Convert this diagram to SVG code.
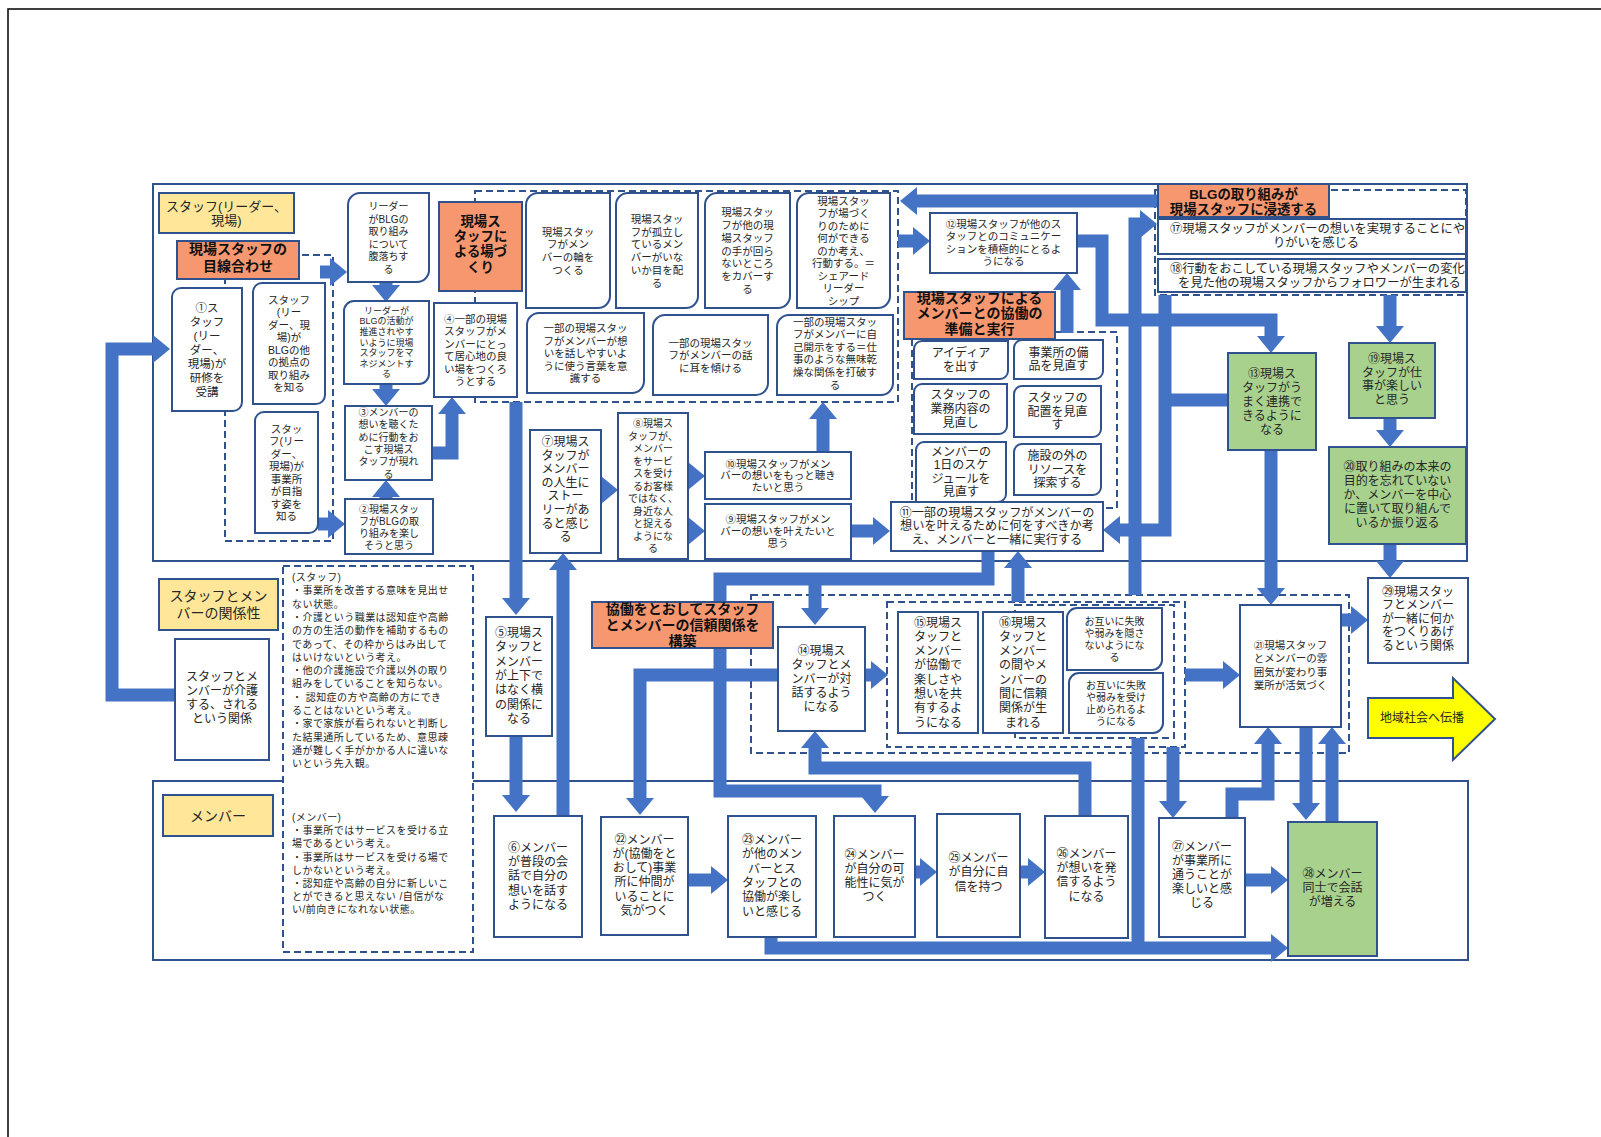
<svg xmlns="http://www.w3.org/2000/svg" width="1601" height="1137" viewBox="0 0 1601 1137">
<defs>
<style>
.fr{fill:none;stroke:#2F528F;stroke-width:2}
.dz{fill:none;stroke:#2F528F;stroke-width:2;stroke-dasharray:7 4}
.dzw{fill:#fff;stroke:#2F528F;stroke-width:2;stroke-dasharray:7 4}
.n{fill:#fff;stroke:#2F528F;stroke-width:2}
.gr{fill:#A9D18E;stroke:#2F528F;stroke-width:2}
.yl{fill:#FFE699;stroke:#2F528F;stroke-width:2}
.or{fill:#F7976F;stroke:#2F528F;stroke-width:2}
.c{fill:none;stroke:#4472C4;stroke-width:13;marker-end:url(#ah)}
.cn{fill:none;stroke:#4472C4;stroke-width:13}
text{font-family:"Liberation Sans","Noto Sans CJK JP","Noto Sans",sans-serif;fill:#262626}
.t{text-anchor:middle;dominant-baseline:central}
.s{text-anchor:start;dominant-baseline:central}
.b{font-weight:700;fill:#111}
.f9{font-size:9px}.f10{font-size:10px}.f105{font-size:10.5px}.f11{font-size:11px}.f115{font-size:11.5px}.f12{font-size:12px}.f122{font-size:12.2px}.f123{font-size:12.3px}.f13{font-size:13px}.f134{font-size:13.4px}.f14{font-size:14px}
.ls{letter-spacing:0.45px}
</style>
<marker id="ah" markerUnits="userSpaceOnUse" markerWidth="17" markerHeight="28" viewBox="0 0 17 28" refX="1" refY="14" orient="auto"><path d="M0,0 L17,14 L0,28 Z" fill="#4472C4"/></marker>
<clipPath id="cp17"><rect x="1158" y="219" width="308" height="35"/></clipPath>
<clipPath id="cp18"><rect x="1158" y="259" width="308" height="33"/></clipPath>
</defs>
<rect width="1601" height="1137" fill="#fff"/>
<path d="M8,1137 V9 H1601" stroke="#000" stroke-width="1.5" fill="none"/>

<g id="frames">
<rect class="fr" x="153" y="184" width="1314" height="377"/>
<rect class="fr" x="153" y="781" width="1315" height="179"/>
<rect class="dz" x="225" y="255" width="108" height="286"/>
<rect class="dz" x="475" y="191" width="423" height="211"/>
<rect class="dz" x="912" y="332" width="205" height="176"/>
<rect class="dz" x="1155" y="190" width="311" height="105"/>
<rect class="dz" x="751" y="595" width="598" height="158"/>
<rect class="dz" x="887" y="602" width="298" height="145"/>
<rect class="dz" x="1015" y="605" width="159" height="133"/>
</g>

<g id="notes">
<rect class="dzw" x="283" y="566" width="190" height="386"/>
<text class="s f10 ls">
<tspan x="292" y="577">(スタッフ)</tspan>
<tspan x="292" y="590.3">・事業所を改善する意味を見出せ</tspan>
<tspan x="292" y="603.6">ない状態。</tspan>
<tspan x="292" y="616.9">・介護という職業は認知症や高齢</tspan>
<tspan x="292" y="630.2">の方の生活の動作を補助するもの</tspan>
<tspan x="292" y="643.5">であって、その枠からはみ出して</tspan>
<tspan x="292" y="656.8">はいけないという考え。</tspan>
<tspan x="292" y="670.1">・他の介護施設で介護以外の取り</tspan>
<tspan x="292" y="683.4">組みをしていることを知らない。</tspan>
<tspan x="292" y="696.7">・ 認知症の方や高齢の方にでき</tspan>
<tspan x="292" y="710">ることはないという考え。</tspan>
<tspan x="292" y="723.3">・家で家族が看られないと判断し</tspan>
<tspan x="292" y="736.6">た結果通所しているため、意思疎</tspan>
<tspan x="292" y="749.9">通が難しく手がかかる人に違いな</tspan>
<tspan x="292" y="763.2">いという先入観。</tspan>
<tspan x="292" y="817">(メンバー)</tspan>
<tspan x="292" y="830.2">・事業所ではサービスを受ける立</tspan>
<tspan x="292" y="843.4">場であるという考え。</tspan>
<tspan x="292" y="856.6">・事業所はサービスを受ける場で</tspan>
<tspan x="292" y="869.8">しかないという考え。</tspan>
<tspan x="292" y="883">・認知症や高齢の自分に新しいこ</tspan>
<tspan x="292" y="896.2">とができると思えない /自信がな</tspan>
<tspan x="292" y="909.4">い/前向きになれない状態。</tspan>
</text>
</g>

<g id="connectors">
<path class="c" d="M175,695 H112 V349 H154"/>
<path class="c" d="M320,272 H331"/>
<path class="c" d="M386,282 V286"/>
<path class="c" d="M386,384 V390"/>
<path class="c" d="M386,499 V496"/>
<path class="c" d="M318,524 H329"/>
<path class="c" d="M432,453 H452 V413"/>
<path class="c" d="M516,402 V599"/>
<path class="c" d="M516,736 V796"/>
<path class="c" d="M563,816 V569"/>
<path class="c" d="M601,490 H602"/>
<path class="c" d="M688,476 H689"/>
<path class="c" d="M688,531 H689"/>
<path class="c" d="M823,452 V418"/>
<path class="c" d="M851,531 H874"/>
<path class="c" d="M1165,295 V530 H1119"/>
<path class="cn" d="M1228,400 H1165"/>
<path class="c" d="M1077,241 H1102 V320 H1271 V337"/>
<path class="c" d="M1067,333 V289"/>
<path class="c" d="M1158,201 H916"/>
<path class="c" d="M898,241 H914"/>
<path class="c" d="M1135,595 V224 H1141"/>
<path class="c" d="M988,551 V579 H720 V791 H875 V797"/>
<path class="c" d="M815,579 V609"/>
<path class="c" d="M1018,602 V567"/>
<path class="c" d="M778,675 H640 V799"/>
<path class="c" d="M1085,816 V768 H815 V747"/>
<path class="c" d="M865,675 H872"/>
<path class="c" d="M1185,675 H1224"/>
<path class="c" d="M1271,450 V589"/>
<path class="c" d="M1390,295 V327"/>
<path class="c" d="M1390,418 V431"/>
<path class="c" d="M1390,544 V562"/>
<path class="c" d="M1341,620 H1352"/>
<path class="c" d="M1173,747 V802"/>
<path class="cn" d="M1138,738 V948"/>
<path class="c" d="M771,937 V948 H1272"/>
<path class="c" d="M1232,818 V794 H1268 V743"/>
<path class="c" d="M1306,727 V804"/>
<path class="c" d="M1332,822 V743"/>
<path class="c" d="M688,880 H712"/>
<path class="c" d="M915,872 H921"/>
<path class="c" d="M1020,872 H1029"/>
<path class="c" d="M1245,880 H1272"/>
</g>

<g id="n01"><path class="n" d="M181,288 H242 V402 A9,9 0 0 1 233,411 H172 V297 A9,9 0 0 1 181,288 Z"/>
<text class="t f115" x="207" y="307.5"><tspan x="207" dy="0">①ス</tspan><tspan x="207" dy="14">タッフ</tspan><tspan x="207" dy="14">(リー</tspan><tspan x="207" dy="14">ダー、</tspan><tspan x="207" dy="14">現場)が</tspan><tspan x="207" dy="14">研修を</tspan><tspan x="207" dy="14">受講</tspan></text></g>

<g id="n-other-sites"><path class="n" d="M262,283 H325 V395 A9,9 0 0 1 316,404 H253 V292 A9,9 0 0 1 262,283 Z"/>
<text class="t f105" x="289" y="299.75"><tspan x="289" dy="0">スタッフ</tspan><tspan x="289" dy="12.5">(リー</tspan><tspan x="289" dy="12.5">ダー、現</tspan><tspan x="289" dy="12.5">場)が</tspan><tspan x="289" dy="12.5">BLGの他</tspan><tspan x="289" dy="12.5">の拠点の</tspan><tspan x="289" dy="12.5">取り組み</tspan><tspan x="289" dy="12.5">を知る</tspan></text></g>

<g id="n-vision"><path class="n" d="M264,412 H318 V524 A9,9 0 0 1 309,533 H255 V421 A9,9 0 0 1 264,412 Z"/>
<text class="t f105" x="286.5" y="428.75"><tspan x="286.5" dy="0">スタッ</tspan><tspan x="286.5" dy="12.5">フ(リー</tspan><tspan x="286.5" dy="12.5">ダー、</tspan><tspan x="286.5" dy="12.5">現場)が</tspan><tspan x="286.5" dy="12.5">事業所</tspan><tspan x="286.5" dy="12.5">が目指</tspan><tspan x="286.5" dy="12.5">す姿を</tspan><tspan x="286.5" dy="12.5">知る</tspan></text></g>

<g id="n-leader"><path class="n" d="M360,193 H429 V270 A12,12 0 0 1 417,282 H348 V205 A12,12 0 0 1 360,193 Z"/>
<text class="t f10" x="388.5" y="206"><tspan x="388.5" dy="0">リーダー</tspan><tspan x="388.5" dy="12.5">がBLGの</tspan><tspan x="388.5" dy="12.5">取り組み</tspan><tspan x="388.5" dy="12.5">について</tspan><tspan x="388.5" dy="12.5">腹落ちす</tspan><tspan x="388.5" dy="12.5">る</tspan></text></g>

<g id="n-manage"><path class="n" d="M354,301 H429 V374 A10,10 0 0 1 419,384 H344 V311 A10,10 0 0 1 354,301 Z"/>
<text class="t f9" x="386.5" y="310.7"><tspan x="386.5" dy="0">リーダーが</tspan><tspan x="386.5" dy="10.6">BLGの活動が</tspan><tspan x="386.5" dy="10.6">推進されやす</tspan><tspan x="386.5" dy="10.6">いように現場</tspan><tspan x="386.5" dy="10.6">スタッフをマ</tspan><tspan x="386.5" dy="10.6">ネジメントす</tspan><tspan x="386.5" dy="10.6">る</tspan></text></g>

<g id="n03"><rect class="n" x="345" y="406" width="87" height="74"/>
<text class="t f10" x="388.5" y="412"><tspan x="388.5" dy="0">③メンバーの</tspan><tspan x="388.5" dy="12.3">想いを聴くた</tspan><tspan x="388.5" dy="12.3">めに行動をお</tspan><tspan x="388.5" dy="12.3">こす現場ス</tspan><tspan x="388.5" dy="12.3">タッフが現れ</tspan><tspan x="388.5" dy="12.3">る</tspan></text></g>

<g id="n02"><rect class="n" x="345" y="499" width="88" height="55"/>
<text class="t f10" x="389" y="508.5"><tspan x="389" dy="0">②現場スタッ</tspan><tspan x="389" dy="12">フがBLGの取</tspan><tspan x="389" dy="12">り組みを楽し</tspan><tspan x="389" dy="12">そうと思う</tspan></text></g>

<g id="n04"><rect class="n" x="434" y="303" width="83" height="94"/>
<text class="t f105" x="475.5" y="318.5"><tspan x="475.5" dy="0">④一部の現場</tspan><tspan x="475.5" dy="12.5">スタッフがメ</tspan><tspan x="475.5" dy="12.5">ンバーにとっ</tspan><tspan x="475.5" dy="12.5">て居心地の良</tspan><tspan x="475.5" dy="12.5">い場をつくろ</tspan><tspan x="475.5" dy="12.5">うとする</tspan></text></g>

<g id="n-ring"><path class="n" d="M538,193 H610 V296 A12,12 0 0 1 598,308 H526 V205 A12,12 0 0 1 538,193 Z"/>
<text class="t f105" x="568" y="231.5"><tspan x="568" dy="0">現場スタッ</tspan><tspan x="568" dy="12.7">フがメン</tspan><tspan x="568" dy="12.7">バーの輪を</tspan><tspan x="568" dy="12.7">つくる</tspan></text></g>

<g id="n-isolated"><path class="n" d="M628,193 H698 V296 A12,12 0 0 1 686,308 H616 V205 A12,12 0 0 1 628,193 Z"/>
<text class="t f105" x="657" y="219"><tspan x="657" dy="0">現場スタッ</tspan><tspan x="657" dy="12.7">フが孤立し</tspan><tspan x="657" dy="12.7">ているメン</tspan><tspan x="657" dy="12.7">バーがいな</tspan><tspan x="657" dy="12.7">いか目を配</tspan><tspan x="657" dy="12.7">る</tspan></text></g>

<g id="n-cover"><path class="n" d="M717,193 H790 V296 A12,12 0 0 1 778,308 H705 V205 A12,12 0 0 1 717,193 Z"/>
<text class="t f105" x="747.5" y="212.4"><tspan x="747.5" dy="0">現場スタッ</tspan><tspan x="747.5" dy="12.7">フが他の現</tspan><tspan x="747.5" dy="12.7">場スタッフ</tspan><tspan x="747.5" dy="12.7">の手が回ら</tspan><tspan x="747.5" dy="12.7">ないところ</tspan><tspan x="747.5" dy="12.7">をカバーす</tspan><tspan x="747.5" dy="12.7">る</tspan></text></g>

<g id="n-shared"><path class="n" d="M809,193 H890 V296 A12,12 0 0 1 878,308 H797 V205 A12,12 0 0 1 809,193 Z"/>
<text class="t f105" x="843.5" y="200.5"><tspan x="843.5" dy="0">現場スタッ</tspan><tspan x="843.5" dy="12.5">フが場づく</tspan><tspan x="843.5" dy="12.5">りのために</tspan><tspan x="843.5" dy="12.5">何ができる</tspan><tspan x="843.5" dy="12.5">のか考え、</tspan><tspan x="843.5" dy="12.5">行動する。＝</tspan><tspan x="843.5" dy="12.5">シェアード</tspan><tspan x="843.5" dy="12.5">リーダー</tspan><tspan x="843.5" dy="12.5">シップ</tspan></text></g>

<g id="n-words"><path class="n" d="M539,313 H644 V381 A12,12 0 0 1 632,393 H527 V325 A12,12 0 0 1 539,313 Z"/>
<text class="t f105" x="585.5" y="328"><tspan x="585.5" dy="0">一部の現場スタッ</tspan><tspan x="585.5" dy="12.5">フがメンバーが想</tspan><tspan x="585.5" dy="12.5">いを話しやすいよ</tspan><tspan x="585.5" dy="12.5">うに使う言葉を意</tspan><tspan x="585.5" dy="12.5">識する</tspan></text></g>

<g id="n-listen"><path class="n" d="M665,315 H768 V383 A12,12 0 0 1 756,395 H653 V327 A12,12 0 0 1 665,315 Z"/>
<text class="t f105" x="710.5" y="342.5"><tspan x="710.5" dy="0">一部の現場スタッ</tspan><tspan x="710.5" dy="12.5">フがメンバーの話</tspan><tspan x="710.5" dy="12.5">に耳を傾ける</tspan></text></g>

<g id="n-disclose"><path class="n" d="M789,315 H893 V383 A12,12 0 0 1 881,395 H777 V327 A12,12 0 0 1 789,315 Z"/>
<text class="t f105" x="835" y="321.5"><tspan x="835" dy="0">一部の現場スタッ</tspan><tspan x="835" dy="12.6">フがメンバーに自</tspan><tspan x="835" dy="12.6">己開示をする＝仕</tspan><tspan x="835" dy="12.6">事のような無味乾</tspan><tspan x="835" dy="12.6">燥な関係を打破す</tspan><tspan x="835" dy="12.6">る</tspan></text></g>

<g id="n05"><rect class="n" x="486" y="617" width="66" height="119"/>
<text class="t f12" x="519" y="633"><tspan x="519" dy="0">⑤現場ス</tspan><tspan x="519" dy="14.3">タッフと</tspan><tspan x="519" dy="14.3">メンバー</tspan><tspan x="519" dy="14.3">が上下で</tspan><tspan x="519" dy="14.3">はなく横</tspan><tspan x="519" dy="14.3">の関係に</tspan><tspan x="519" dy="14.3">なる</tspan></text></g>

<g id="n06"><rect class="n" x="494" y="816" width="88" height="121"/>
<text class="t f12" x="538" y="848"><tspan x="538" dy="0">⑥メンバー</tspan><tspan x="538" dy="14.2">が普段の会</tspan><tspan x="538" dy="14.2">話で自分の</tspan><tspan x="538" dy="14.2">想いを話す</tspan><tspan x="538" dy="14.2">ようになる</tspan></text></g>

<g id="n07"><rect class="n" x="530" y="430" width="71" height="123"/>
<text class="t f12" x="565.5" y="442"><tspan x="565.5" dy="0">⑦現場ス</tspan><tspan x="565.5" dy="13.6">タッフが</tspan><tspan x="565.5" dy="13.6">メンバー</tspan><tspan x="565.5" dy="13.6">の人生に</tspan><tspan x="565.5" dy="13.6">ストー</tspan><tspan x="565.5" dy="13.6">リーがあ</tspan><tspan x="565.5" dy="13.6">ると感じ</tspan><tspan x="565.5" dy="13.6">る</tspan></text></g>

<g id="n08"><rect class="n" x="618" y="413" width="70" height="146"/>
<text class="t f10" x="653" y="423"><tspan x="653" dy="0">⑧現場ス</tspan><tspan x="653" dy="12.5">タッフが、</tspan><tspan x="653" dy="12.5">メンバー</tspan><tspan x="653" dy="12.5">をサービ</tspan><tspan x="653" dy="12.5">スを受け</tspan><tspan x="653" dy="12.5">るお客様</tspan><tspan x="653" dy="12.5">ではなく、</tspan><tspan x="653" dy="12.5">身近な人</tspan><tspan x="653" dy="12.5">と捉える</tspan><tspan x="653" dy="12.5">ようにな</tspan><tspan x="653" dy="12.5">る</tspan></text></g>

<g id="n10"><rect class="n" x="705" y="452" width="146" height="47"/>
<text class="t f105" x="778" y="463.5"><tspan x="778" dy="0">⑩現場スタッフがメン</tspan><tspan x="778" dy="11.9">バーの想いをもっと聴き</tspan><tspan x="778" dy="11.9">たいと思う</tspan></text></g>

<g id="n09"><rect class="n" x="705" y="504" width="146" height="55"/>
<text class="t f105" x="778" y="519"><tspan x="778" dy="0">⑨現場スタッフがメン</tspan><tspan x="778" dy="11.9">バーの想いを叶えたいと</tspan><tspan x="778" dy="11.9">思う</tspan></text></g>

<g id="n11"><rect class="n" x="891" y="502" width="212" height="49"/>
<text class="t f122" x="997" y="512.5"><tspan x="997" dy="0">⑪一部の現場スタッフがメンバーの</tspan><tspan x="997" dy="13.8">想いを叶えるために何をすべきか考</tspan><tspan x="997" dy="13.8">え、メンバーと一緒に実行する</tspan></text></g>

<g id="n12"><rect class="n" x="930" y="213" width="147" height="60"/>
<text class="t f105" x="1003.5" y="224"><tspan x="1003.5" dy="0">⑫現場スタッフが他のス</tspan><tspan x="1003.5" dy="12.3">タッフとのコミュニケー</tspan><tspan x="1003.5" dy="12.3">ションを積極的にとるよ</tspan><tspan x="1003.5" dy="12.3">うになる</tspan></text></g>

<g id="n-idea"><path class="n" d="M922,341 H1008 V371 A8,8 0 0 1 1000,379 H914 V349 A8,8 0 0 1 922,341 Z"/>
<text class="t f12" x="961" y="353.2"><tspan x="961" dy="0">アイディア</tspan><tspan x="961" dy="13.6">を出す</tspan></text></g>

<g id="n-equip"><path class="n" d="M1022,340 H1103 V371 A8,8 0 0 1 1095,379 H1014 V348 A8,8 0 0 1 1022,340 Z"/>
<text class="t f12" x="1058.5" y="352.7"><tspan x="1058.5" dy="0">事業所の備</tspan><tspan x="1058.5" dy="13.6">品を見直す</tspan></text></g>

<g id="n-duty"><path class="n" d="M922,384 H1007 V426 A8,8 0 0 1 999,434 H914 V392 A8,8 0 0 1 922,384 Z"/>
<text class="t f12" x="960.5" y="395.4"><tspan x="960.5" dy="0">スタッフの</tspan><tspan x="960.5" dy="13.6">業務内容の</tspan><tspan x="960.5" dy="13.6">見直し</tspan></text></g>

<g id="n-place"><path class="n" d="M1022,386 H1101 V429 A8,8 0 0 1 1093,437 H1014 V394 A8,8 0 0 1 1022,386 Z"/>
<text class="t f12" x="1057.5" y="397.9"><tspan x="1057.5" dy="0">スタッフの</tspan><tspan x="1057.5" dy="13.6">配置を見直</tspan><tspan x="1057.5" dy="13.6">す</tspan></text></g>

<g id="n-schedule"><path class="n" d="M924,442 H1006 V494 A8,8 0 0 1 998,502 H916 V450 A8,8 0 0 1 924,442 Z"/>
<text class="t f12" x="961" y="451.6"><tspan x="961" dy="0">メンバーの</tspan><tspan x="961" dy="13.6">1日のスケ</tspan><tspan x="961" dy="13.6">ジュールを</tspan><tspan x="961" dy="13.6">見直す</tspan></text></g>

<g id="n-resource"><path class="n" d="M1022,444 H1101 V487 A8,8 0 0 1 1093,495 H1014 V452 A8,8 0 0 1 1022,444 Z"/>
<text class="t f12" x="1057.5" y="455.9"><tspan x="1057.5" dy="0">施設の外の</tspan><tspan x="1057.5" dy="13.6">リソースを</tspan><tspan x="1057.5" dy="13.6">探索する</tspan></text></g>

<g id="n17"><rect class="n" x="1158" y="219" width="308" height="35"/>
<g clip-path="url(#cp17)"><text class="s f123" x="1170" y="228.5">⑰現場スタッフがメンバーの想いを実現することにや</text>
<text class="t f123" x="1316" y="243">りがいを感じる</text></g></g>

<g id="n18"><rect class="n" x="1158" y="259" width="308" height="33"/>
<g clip-path="url(#cp18)"><text class="s f123" x="1170" y="268.5">⑱行動をおこしている現場スタッフやメンバーの変化</text>
<text class="t f123" x="1319.5" y="282.5">を見た他の現場スタッフからフォロワーが生まれる</text></g></g>

<g id="n13"><rect class="gr" x="1228" y="353" width="88" height="97"/>
<text class="t f12" x="1272" y="373.5"><tspan x="1272" dy="0">⑬現場ス</tspan><tspan x="1272" dy="14">タッフがう</tspan><tspan x="1272" dy="14">まく連携で</tspan><tspan x="1272" dy="14">きるように</tspan><tspan x="1272" dy="14">なる</tspan></text></g>

<g id="n19"><rect class="gr" x="1349" y="343" width="86" height="75"/>
<text class="t f12" x="1392" y="359"><tspan x="1392" dy="0">⑲現場ス</tspan><tspan x="1392" dy="13.6">タッフが仕</tspan><tspan x="1392" dy="13.6">事が楽しい</tspan><tspan x="1392" dy="13.6">と思う</tspan></text></g>

<g id="n20"><rect class="gr" x="1329" y="447" width="137" height="97"/>
<text class="t f12" x="1397.5" y="467"><tspan x="1397.5" dy="0">⑳取り組みの本来の</tspan><tspan x="1397.5" dy="14">目的を忘れていない</tspan><tspan x="1397.5" dy="14">か、メンバーを中心</tspan><tspan x="1397.5" dy="14">に置いて取り組んで</tspan><tspan x="1397.5" dy="14">いるか振り返る</tspan></text></g>

<g id="n29"><rect class="n" x="1368" y="578" width="100" height="85"/>
<text class="t f12" x="1418" y="591.5"><tspan x="1418" dy="0">㉙現場スタッ</tspan><tspan x="1418" dy="13.6">フとメンバー</tspan><tspan x="1418" dy="13.6">が一緒に何か</tspan><tspan x="1418" dy="13.6">をつくりあげ</tspan><tspan x="1418" dy="13.6">るという関係</tspan></text></g>

<g id="n21"><rect class="n" x="1240" y="605" width="101" height="122"/>
<text class="t f105" x="1290.5" y="645"><tspan x="1290.5" dy="0">㉑現場スタッフ</tspan><tspan x="1290.5" dy="13.3">とメンバーの雰</tspan><tspan x="1290.5" dy="13.3">囲気が変わり事</tspan><tspan x="1290.5" dy="13.3">業所が活気づく</tspan></text></g>

<g id="n14"><rect class="n" x="778" y="627" width="87" height="104"/>
<text class="t f12" x="821.5" y="651"><tspan x="821.5" dy="0">⑭現場ス</tspan><tspan x="821.5" dy="14">タッフとメ</tspan><tspan x="821.5" dy="14">ンバーが対</tspan><tspan x="821.5" dy="14">話するよう</tspan><tspan x="821.5" dy="14">になる</tspan></text></g>

<g id="n15"><rect class="n" x="898" y="612" width="80" height="121"/>
<text class="t f12" x="938" y="622.5"><tspan x="938" dy="0">⑮現場ス</tspan><tspan x="938" dy="14.3">タッフと</tspan><tspan x="938" dy="14.3">メンバー</tspan><tspan x="938" dy="14.3">が協働で</tspan><tspan x="938" dy="14.3">楽しさや</tspan><tspan x="938" dy="14.3">想いを共</tspan><tspan x="938" dy="14.3">有するよ</tspan><tspan x="938" dy="14.3">うになる</tspan></text></g>

<g id="n16"><rect class="n" x="983" y="612" width="80" height="121"/>
<text class="t f12" x="1023" y="622.5"><tspan x="1023" dy="0">⑯現場ス</tspan><tspan x="1023" dy="14.3">タッフと</tspan><tspan x="1023" dy="14.3">メンバー</tspan><tspan x="1023" dy="14.3">の間やメ</tspan><tspan x="1023" dy="14.3">ンバーの</tspan><tspan x="1023" dy="14.3">間に信頼</tspan><tspan x="1023" dy="14.3">関係が生</tspan><tspan x="1023" dy="14.3">まれる</tspan></text></g>

<g id="n-hide"><path class="n" d="M1077,608 H1162 V660 A10,10 0 0 1 1152,670 H1067 V618 A10,10 0 0 1 1077,608 Z"/>
<text class="t f10" x="1114.5" y="621"><tspan x="1114.5" dy="0">お互いに失敗</tspan><tspan x="1114.5" dy="12">や弱みを隠さ</tspan><tspan x="1114.5" dy="12">ないようにな</tspan><tspan x="1114.5" dy="12">る</tspan></text></g>

<g id="n-accept"><path class="n" d="M1079,673 H1163 V723 A10,10 0 0 1 1153,733 H1069 V683 A10,10 0 0 1 1079,673 Z"/>
<text class="t f10" x="1116" y="685"><tspan x="1116" dy="0">お互いに失敗</tspan><tspan x="1116" dy="12">や弱みを受け</tspan><tspan x="1116" dy="12">止められるよ</tspan><tspan x="1116" dy="12">うになる</tspan></text></g>

<g id="n22"><rect class="n" x="601" y="817" width="87" height="118"/>
<text class="t f12" x="644.5" y="839.5"><tspan x="644.5" dy="0">㉒メンバー</tspan><tspan x="644.5" dy="14.3">が(協働をと</tspan><tspan x="644.5" dy="14.3">おして)事業</tspan><tspan x="644.5" dy="14.3">所に仲間が</tspan><tspan x="644.5" dy="14.3">いることに</tspan><tspan x="644.5" dy="14.3">気がつく</tspan></text></g>

<g id="n23"><rect class="n" x="728" y="816" width="88" height="121"/>
<text class="t f12" x="772" y="840"><tspan x="772" dy="0">㉓メンバー</tspan><tspan x="772" dy="14.3">が他のメン</tspan><tspan x="772" dy="14.3">バーとス</tspan><tspan x="772" dy="14.3">タッフとの</tspan><tspan x="772" dy="14.3">協働が楽し</tspan><tspan x="772" dy="14.3">いと感じる</tspan></text></g>

<g id="n24"><rect class="n" x="834" y="816" width="81" height="121"/>
<text class="t f12" x="874.5" y="854.5"><tspan x="874.5" dy="0">㉔メンバー</tspan><tspan x="874.5" dy="14.3">が自分の可</tspan><tspan x="874.5" dy="14.3">能性に気が</tspan><tspan x="874.5" dy="14.3">つく</tspan></text></g>

<g id="n25"><rect class="n" x="937" y="814" width="83" height="123"/>
<text class="t f12" x="978.5" y="857.5"><tspan x="978.5" dy="0">㉕メンバー</tspan><tspan x="978.5" dy="14.5">が自分に自</tspan><tspan x="978.5" dy="14.5">信を持つ</tspan></text></g>

<g id="n26"><rect class="n" x="1045" y="816" width="83" height="122"/>
<text class="t f12" x="1086.5" y="853.5"><tspan x="1086.5" dy="0">㉖メンバー</tspan><tspan x="1086.5" dy="14.4">が想いを発</tspan><tspan x="1086.5" dy="14.4">信するよう</tspan><tspan x="1086.5" dy="14.4">になる</tspan></text></g>

<g id="n27"><rect class="n" x="1159" y="818" width="86" height="119"/>
<text class="t f12" x="1202" y="847"><tspan x="1202" dy="0">㉗メンバー</tspan><tspan x="1202" dy="14">が事業所に</tspan><tspan x="1202" dy="14">通うことが</tspan><tspan x="1202" dy="14">楽しいと感</tspan><tspan x="1202" dy="14">じる</tspan></text></g>

<g id="n28"><rect class="gr" x="1288" y="822" width="89" height="134"/>
<text class="t f12" x="1332.5" y="873.5"><tspan x="1332.5" dy="0">㉘メンバー</tspan><tspan x="1332.5" dy="14.2">同士で会話</tspan><tspan x="1332.5" dy="14.2">が増える</tspan></text></g>

<g id="n-relation"><rect class="n" x="175" y="639" width="94" height="121"/>
<text class="t f12" x="222" y="677"><tspan x="222" dy="0">スタッフとメ</tspan><tspan x="222" dy="13.9">ンバーが介護</tspan><tspan x="222" dy="13.9">する、される</tspan><tspan x="222" dy="13.9">という関係</tspan></text></g>

<g id="n-spread"><polygon points="1368,698 1453,698 1453,678 1495,719 1453,760 1453,738 1368,738" fill="#FFFF00" stroke="#2F528F" stroke-width="2"/>
<text class="t f12" x="1422" y="718">地域社会へ伝播</text></g>

<g id="lab-staff"><rect class="yl" x="159" y="193" width="135" height="40"/>
<text class="t f13" x="226.5" y="205.5"><tspan x="226.5" dy="0">スタッフ(リーダー、</tspan><tspan x="226.5" dy="14.8">現場)</tspan></text></g>

<g id="lab-relation"><rect class="yl" x="159" y="579" width="119" height="51"/>
<text class="t f14" x="218.5" y="596"><tspan x="218.5" dy="0">スタッフとメン</tspan><tspan x="218.5" dy="16.5">バーの関係性</tspan></text></g>

<g id="lab-member"><rect class="yl" x="163" y="795" width="110" height="41"/>
<text class="t f14" x="218" y="815.5">メンバー</text></g>

<g id="lab-align"><rect class="or" x="177" y="241" width="122" height="38"/>
<text class="t f14 b" x="238" y="249"><tspan x="238" dy="0">現場スタッフの</tspan><tspan x="238" dy="16.5">目線合わせ</tspan></text></g>

<g id="lab-place"><rect class="or" x="439" y="202" width="83" height="89"/>
<text class="t f134 b" x="480.5" y="221"><tspan x="480.5" dy="0">現場ス</tspan><tspan x="480.5" dy="15.2">タッフに</tspan><tspan x="480.5" dy="15.2">よる場づ</tspan><tspan x="480.5" dy="15.2">くり</tspan></text></g>

<g id="lab-prep"><rect class="or" x="904" y="292" width="151" height="47"/>
<text class="t f14 b" x="979.5" y="297.5"><tspan x="979.5" dy="0">現場スタッフによる</tspan><tspan x="979.5" dy="15.8">メンバーとの協働の</tspan><tspan x="979.5" dy="15.8">準備と実行</tspan></text></g>

<g id="lab-blg"><rect class="or" x="1158" y="184" width="171" height="33"/>
<text class="t f134 b" x="1243.5" y="193.5"><tspan x="1243.5" dy="0">BLGの取り組みが</tspan><tspan x="1243.5" dy="15.2">現場スタッフに浸透する</tspan></text></g>

<g id="lab-trust"><rect class="or" x="592" y="602" width="181" height="46"/>
<text class="t f14 b" x="682.5" y="608.5"><tspan x="682.5" dy="0">協働をとおしてスタッフ</tspan><tspan x="682.5" dy="16">とメンバーの信頼関係を</tspan><tspan x="682.5" dy="16">構築</tspan></text></g>
</svg>
